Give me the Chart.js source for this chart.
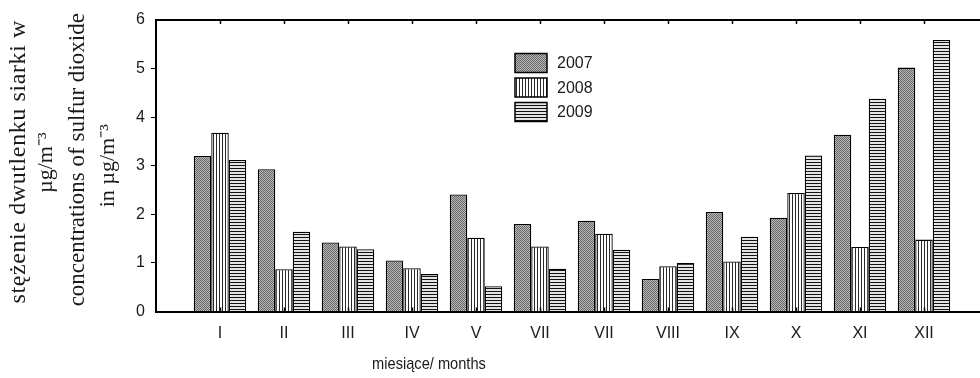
<!DOCTYPE html>
<html><head><meta charset="utf-8">
<script src="https://cdn.jsdelivr.net/npm/chart.js@4.4.1/dist/chart.umd.min.js"></script>
<style>
html,body{margin:0;padding:0;overflow:hidden;background:#fff;width:980px;height:378px}
#wrap{position:relative;width:1000px;height:378px}
canvas{display:block}
</style>
</head><body><div id="wrap"><canvas id="c" width="1000" height="378"></canvas></div>
<script>
// ---- data ----
const months = ['I','II','III','IV','V','VII','VII','VIII','IX','X','XI','XII'];
const seriesNames = ['2007','2008','2009'];
const values2007 = [3.20,2.93,1.42,1.05,2.41,1.80,1.87,0.67,2.05,1.93,3.64,5.02];
const values2008 = [3.68,0.87,1.34,0.89,1.52,1.34,1.60,0.93,1.03,2.44,1.33,1.48];
const values2009 = [3.12,1.64,1.28,0.77,0.52,0.88,1.27,1.00,1.54,3.21,4.38,5.59];
const yMin = 0, yMax = 6, yStep = 1;
const yTitleLines = ['stężenie dwutlenku siarki w','µg/m⁻³','concentrations of sulfur dioxide','in µg/m⁻³'];
const xTitle = 'miesiące/ months';

// ---- styling helpers ----
const SANS = "'Liberation Sans Narrow','Liberation Sans',Arial,sans-serif";
const SANS_W = "'Liberation Sans',Arial,sans-serif";
const SERIF = "'Liberation Serif','Times New Roman',serif";
const TXT = '#1a1a1a';
const mainCtx = document.getElementById('c').getContext('2d');

function makePattern(kind){
  const c = document.createElement('canvas');
  const g = c.getContext('2d');
  if (kind === 'dots') {
    c.width = 2; c.height = 2;
    g.fillStyle = '#b6b6b6'; g.fillRect(0,0,2,2);
    g.fillStyle = '#6a6a6a'; g.fillRect(0,0,1,1); g.fillRect(1,1,1,1);
  } else if (kind === 'vert') {
    c.width = 3; c.height = 1;
    g.fillStyle = '#ffffff'; g.fillRect(0,0,3,1);
    g.fillStyle = '#2a2a2a'; g.fillRect(0,0,1,1);
  } else {
    c.width = 1; c.height = 3;
    g.fillStyle = '#e4e4e4'; g.fillRect(0,0,1,3);
    g.fillStyle = '#111111'; g.fillRect(0,0,1,1);
  }
  return mainCtx.createPattern(c, 'repeat');
}
const fills = [makePattern('dots'), makePattern('vert'), makePattern('horiz')];

const pad = a => [null, ...a, null];
const labels = ['', ...months, ''];
const seriesValues = [values2007, values2008, values2009];

const datasets = seriesNames.map((name, i) => ({
  label: name,
  data: pad(seriesValues[i]),
  backgroundColor: fills[i],
  borderColor: '#000',
  borderWidth: 1.3,
  borderSkipped: 'bottom',
  categoryPercentage: 0.82,
  barPercentage: 1.0
}));

const framePlugin = {
  id: 'frame',
  afterDraw(chart) {
    const {ctx, chartArea: a, scales: {x}} = chart;
    ctx.save();
    ctx.strokeStyle = '#000';
    ctx.lineWidth = 2;
    ctx.beginPath();
    ctx.moveTo(a.left - 1, a.top); ctx.lineTo(a.right, a.top);
    ctx.stroke();
    ctx.lineWidth = 1.5;
    x.ticks.forEach((t, i) => {
      if (labels[i] === '') return;
      const px = Math.round(x.getPixelForTick(i)) + 0.5;
      ctx.beginPath();
      ctx.moveTo(px, a.top); ctx.lineTo(px, a.top + 4);
      ctx.moveTo(px, a.bottom); ctx.lineTo(px, a.bottom - 4);
      ctx.stroke();
    });
    ctx.restore();
  }
};

const legendPlugin = {
  id: 'boxLegend',
  afterDraw(chart, args, opts) {
    const {ctx} = chart;
    ctx.save();
    chart.data.datasets.forEach((ds, i) => {
      const bx = opts.x, by = opts.y + i * opts.row;
      ctx.fillStyle = ds.backgroundColor;
      ctx.fillRect(bx, by, opts.w, opts.h);
      ctx.strokeStyle = '#000'; ctx.lineWidth = 1.5;
      ctx.strokeRect(bx, by, opts.w, opts.h);
      ctx.fillStyle = TXT;
      ctx.font = `16px ${SANS_W}`;
      ctx.textAlign = 'left'; ctx.textBaseline = 'middle';
      ctx.fillText(ds.label, bx + opts.w + 10, by + opts.h / 2 + 1);
    });
    ctx.restore();
  }
};

const titlesPlugin = {
  id: 'axisTitles',
  afterDraw(chart, args, opts) {
    const {ctx, chartArea: a} = chart;
    ctx.save();
    ctx.fillStyle = TXT;
    const cy = (a.top + a.bottom) / 2;
    yTitleLines.forEach((line, i) => {
      const col = opts.cols[i];
      ctx.save();
      ctx.translate(col.x, cy + (col.dy || 0));
      ctx.rotate(-Math.PI / 2);
      ctx.font = `${col.size}px ${SERIF}`;
      if ('letterSpacing' in ctx) ctx.letterSpacing = (col.ls || 0) + 'px';
      ctx.textAlign = 'center'; ctx.textBaseline = 'middle';
      ctx.fillText(line, 0, 0);
      ctx.restore();
    });
    ctx.save();
    ctx.translate(opts.xTitleX, opts.xTitleY);
    ctx.scale(0.86, 1);
    ctx.font = `17px ${SANS}`;
    ctx.textAlign = 'center'; ctx.textBaseline = 'middle';
    ctx.fillText(xTitle, 0, 0);
    ctx.restore();
    ctx.restore();
  }
};

new Chart(mainCtx, {
  type: 'bar',
  data: { labels, datasets },
  options: {
    responsive: false,
    animation: false,
    devicePixelRatio: 1,
    layout: { padding: { left: 0, right: 12, top: 20, bottom: 0 } },
    plugins: {
      legend: { display: false },
      tooltip: { enabled: false },
      boxLegend: { x: 515, y: 53.5, row: 24.5, w: 32, h: 19 },
      axisTitles: {
        cols: [
          { x: 19, size: 24, ls: 0.6, dy: -4 },
          { x: 46, size: 22, dy: -3 },
          { x: 78, size: 23, dy: -6 },
          { x: 108, size: 22 }
        ],
        xTitleX: 429, xTitleY: 364
      }
    },
    scales: {
      x: {
        type: 'category',
        offset: false,
        grid: { display: false, drawTicks: false },
        border: { display: true, color: '#000', width: 2 },
        ticks: { autoSkip: false, maxRotation: 0, padding: 12, color: TXT,
                 font: { family: SANS, size: 16 } },
        afterFit: s => { s.height = 66.5; }
      },
      y: {
        min: yMin, max: yMax,
        ticks: { stepSize: yStep, padding: 6, color: TXT, font: { family: SANS_W, size: 16 } },
        grid: { drawOnChartArea: false, drawTicks: true, tickLength: 5,
                color: c => (c.tick && (c.tick.value === yMin || c.tick.value === yMax)) ? 'rgba(0,0,0,0)' : '#000' },
        border: { display: true, color: '#000', width: 2 },
        afterFit: s => { s.width = 156; }
      }
    }
  },
  plugins: [framePlugin, legendPlugin, titlesPlugin]
});
</script>
</body></html>
